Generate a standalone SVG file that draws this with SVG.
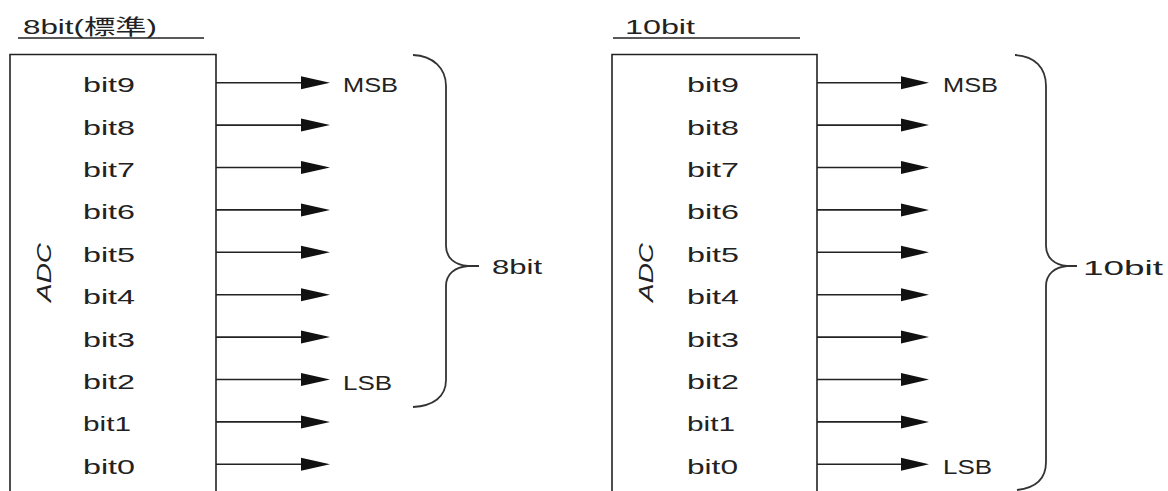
<svg xmlns="http://www.w3.org/2000/svg" width="1168" height="491" viewBox="0 0 1168 491">
<style>
text{font-family:"Liberation Sans","Noto Sans CJK JP",sans-serif;font-size:21px;fill:#222;lengthAdjust:spacingAndGlyphs}
.box{fill:none;stroke:#222;stroke-width:1.6}
.ln{stroke:#222;stroke-width:1.6;fill:none}
.hd{fill:#111}
.br{fill:none;stroke:#333;stroke-width:1.8}
.adc{font-style:italic}
</style>
<defs>
<g id="arrL"><line class="ln" x1="216" y1="0" x2="304" y2="0"/><polygon class="hd" points="301,-6.5 330,0 301,6.5"/></g>
<g id="arrR"><line class="ln" x1="817" y1="0" x2="905" y2="0"/><polygon class="hd" points="901,-6.5 929,0 901,6.5"/></g>
</defs>

<g id="title-8bit">
<text x="23" y="34" textLength="134" lengthAdjust="spacingAndGlyphs">8bit(標準)</text>
<line class="ln" x1="18" y1="38" x2="204" y2="38"/>
</g>
<g id="title-10bit">
<text x="625" y="34" textLength="70" lengthAdjust="spacingAndGlyphs">10bit</text>
<line class="ln" x1="613" y1="38" x2="800" y2="38"/>
</g>

<g id="adc-left">
<path class="box" d="M10,495 L10,54.5 L216,54.5 L216,495"/>
<text class="adc" transform="translate(51,302) rotate(-90)" textLength="59" lengthAdjust="spacingAndGlyphs">ADC</text>
<text x="83" y="92" textLength="52" lengthAdjust="spacingAndGlyphs">bit9</text>
<text x="83" y="135" textLength="52" lengthAdjust="spacingAndGlyphs">bit8</text>
<text x="83" y="177" textLength="52" lengthAdjust="spacingAndGlyphs">bit7</text>
<text x="83" y="219" textLength="52" lengthAdjust="spacingAndGlyphs">bit6</text>
<text x="83" y="262" textLength="52" lengthAdjust="spacingAndGlyphs">bit5</text>
<text x="83" y="304" textLength="52" lengthAdjust="spacingAndGlyphs">bit4</text>
<text x="83" y="347" textLength="52" lengthAdjust="spacingAndGlyphs">bit3</text>
<text x="83" y="389" textLength="52" lengthAdjust="spacingAndGlyphs">bit2</text>
<text x="83" y="431" textLength="48" lengthAdjust="spacingAndGlyphs">bit1</text>
<text x="83" y="474" textLength="52" lengthAdjust="spacingAndGlyphs">bit0</text>
</g>

<g id="adc-right">
<path class="box" d="M612,495 L612,54.5 L817,54.5 L817,495"/>
<text class="adc" transform="translate(653,302) rotate(-90)" textLength="59" lengthAdjust="spacingAndGlyphs">ADC</text>
<text x="687" y="92" textLength="52" lengthAdjust="spacingAndGlyphs">bit9</text>
<text x="687" y="135" textLength="52" lengthAdjust="spacingAndGlyphs">bit8</text>
<text x="687" y="177" textLength="52" lengthAdjust="spacingAndGlyphs">bit7</text>
<text x="687" y="219" textLength="52" lengthAdjust="spacingAndGlyphs">bit6</text>
<text x="687" y="262" textLength="52" lengthAdjust="spacingAndGlyphs">bit5</text>
<text x="687" y="304" textLength="52" lengthAdjust="spacingAndGlyphs">bit4</text>
<text x="687" y="347" textLength="52" lengthAdjust="spacingAndGlyphs">bit3</text>
<text x="687" y="389" textLength="52" lengthAdjust="spacingAndGlyphs">bit2</text>
<text x="687" y="431" textLength="48" lengthAdjust="spacingAndGlyphs">bit1</text>
<text x="687" y="474" textLength="51" lengthAdjust="spacingAndGlyphs">bit0</text>
</g>

<g id="connectors">
<use href="#arrL" y="82.7"/>
<use href="#arrL" y="125.1"/>
<use href="#arrL" y="167.5"/>
<use href="#arrL" y="209.9"/>
<use href="#arrL" y="252.3"/>
<use href="#arrL" y="294.7"/>
<use href="#arrL" y="337.1"/>
<use href="#arrL" y="379.5"/>
<use href="#arrL" y="421.9"/>
<use href="#arrL" y="464.3"/>
<use href="#arrR" y="82.7"/>
<use href="#arrR" y="125.1"/>
<use href="#arrR" y="167.5"/>
<use href="#arrR" y="209.9"/>
<use href="#arrR" y="252.3"/>
<use href="#arrR" y="294.7"/>
<use href="#arrR" y="337.1"/>
<use href="#arrR" y="379.5"/>
<use href="#arrR" y="421.9"/>
<use href="#arrR" y="464.3"/>
</g>

<g id="labels-left">
<text x="343" y="92" textLength="55" lengthAdjust="spacingAndGlyphs">MSB</text>
<text x="343" y="390" textLength="49" lengthAdjust="spacingAndGlyphs">LSB</text>
</g>
<g id="labels-right">
<text x="943" y="92" textLength="55" lengthAdjust="spacingAndGlyphs">MSB</text>
<text x="943" y="474" textLength="49" lengthAdjust="spacingAndGlyphs">LSB</text>
</g>

<g id="brace-left">
<path class="br" d="M413,55 C433,56 446,68 446,86 L446,246 C446,258 455,265 468,266 L479,266 M468,266 C455,267 446,274 446,286 L446,380 C446,397 433,406 413,407"/>
<text x="492" y="274" textLength="50" lengthAdjust="spacingAndGlyphs">8bit</text>
</g>
<g id="brace-right">
<path class="br" d="M1015,55 C1035,56 1046,68 1046,86 L1046,246 C1046,258 1055,265 1067,266 L1077,266 M1067,266 C1055,267 1046,274 1046,286 L1046,462 C1046,479 1035,488 1017,490"/>
<text x="1083" y="275" textLength="80" lengthAdjust="spacingAndGlyphs">10bit</text>
</g>
</svg>
